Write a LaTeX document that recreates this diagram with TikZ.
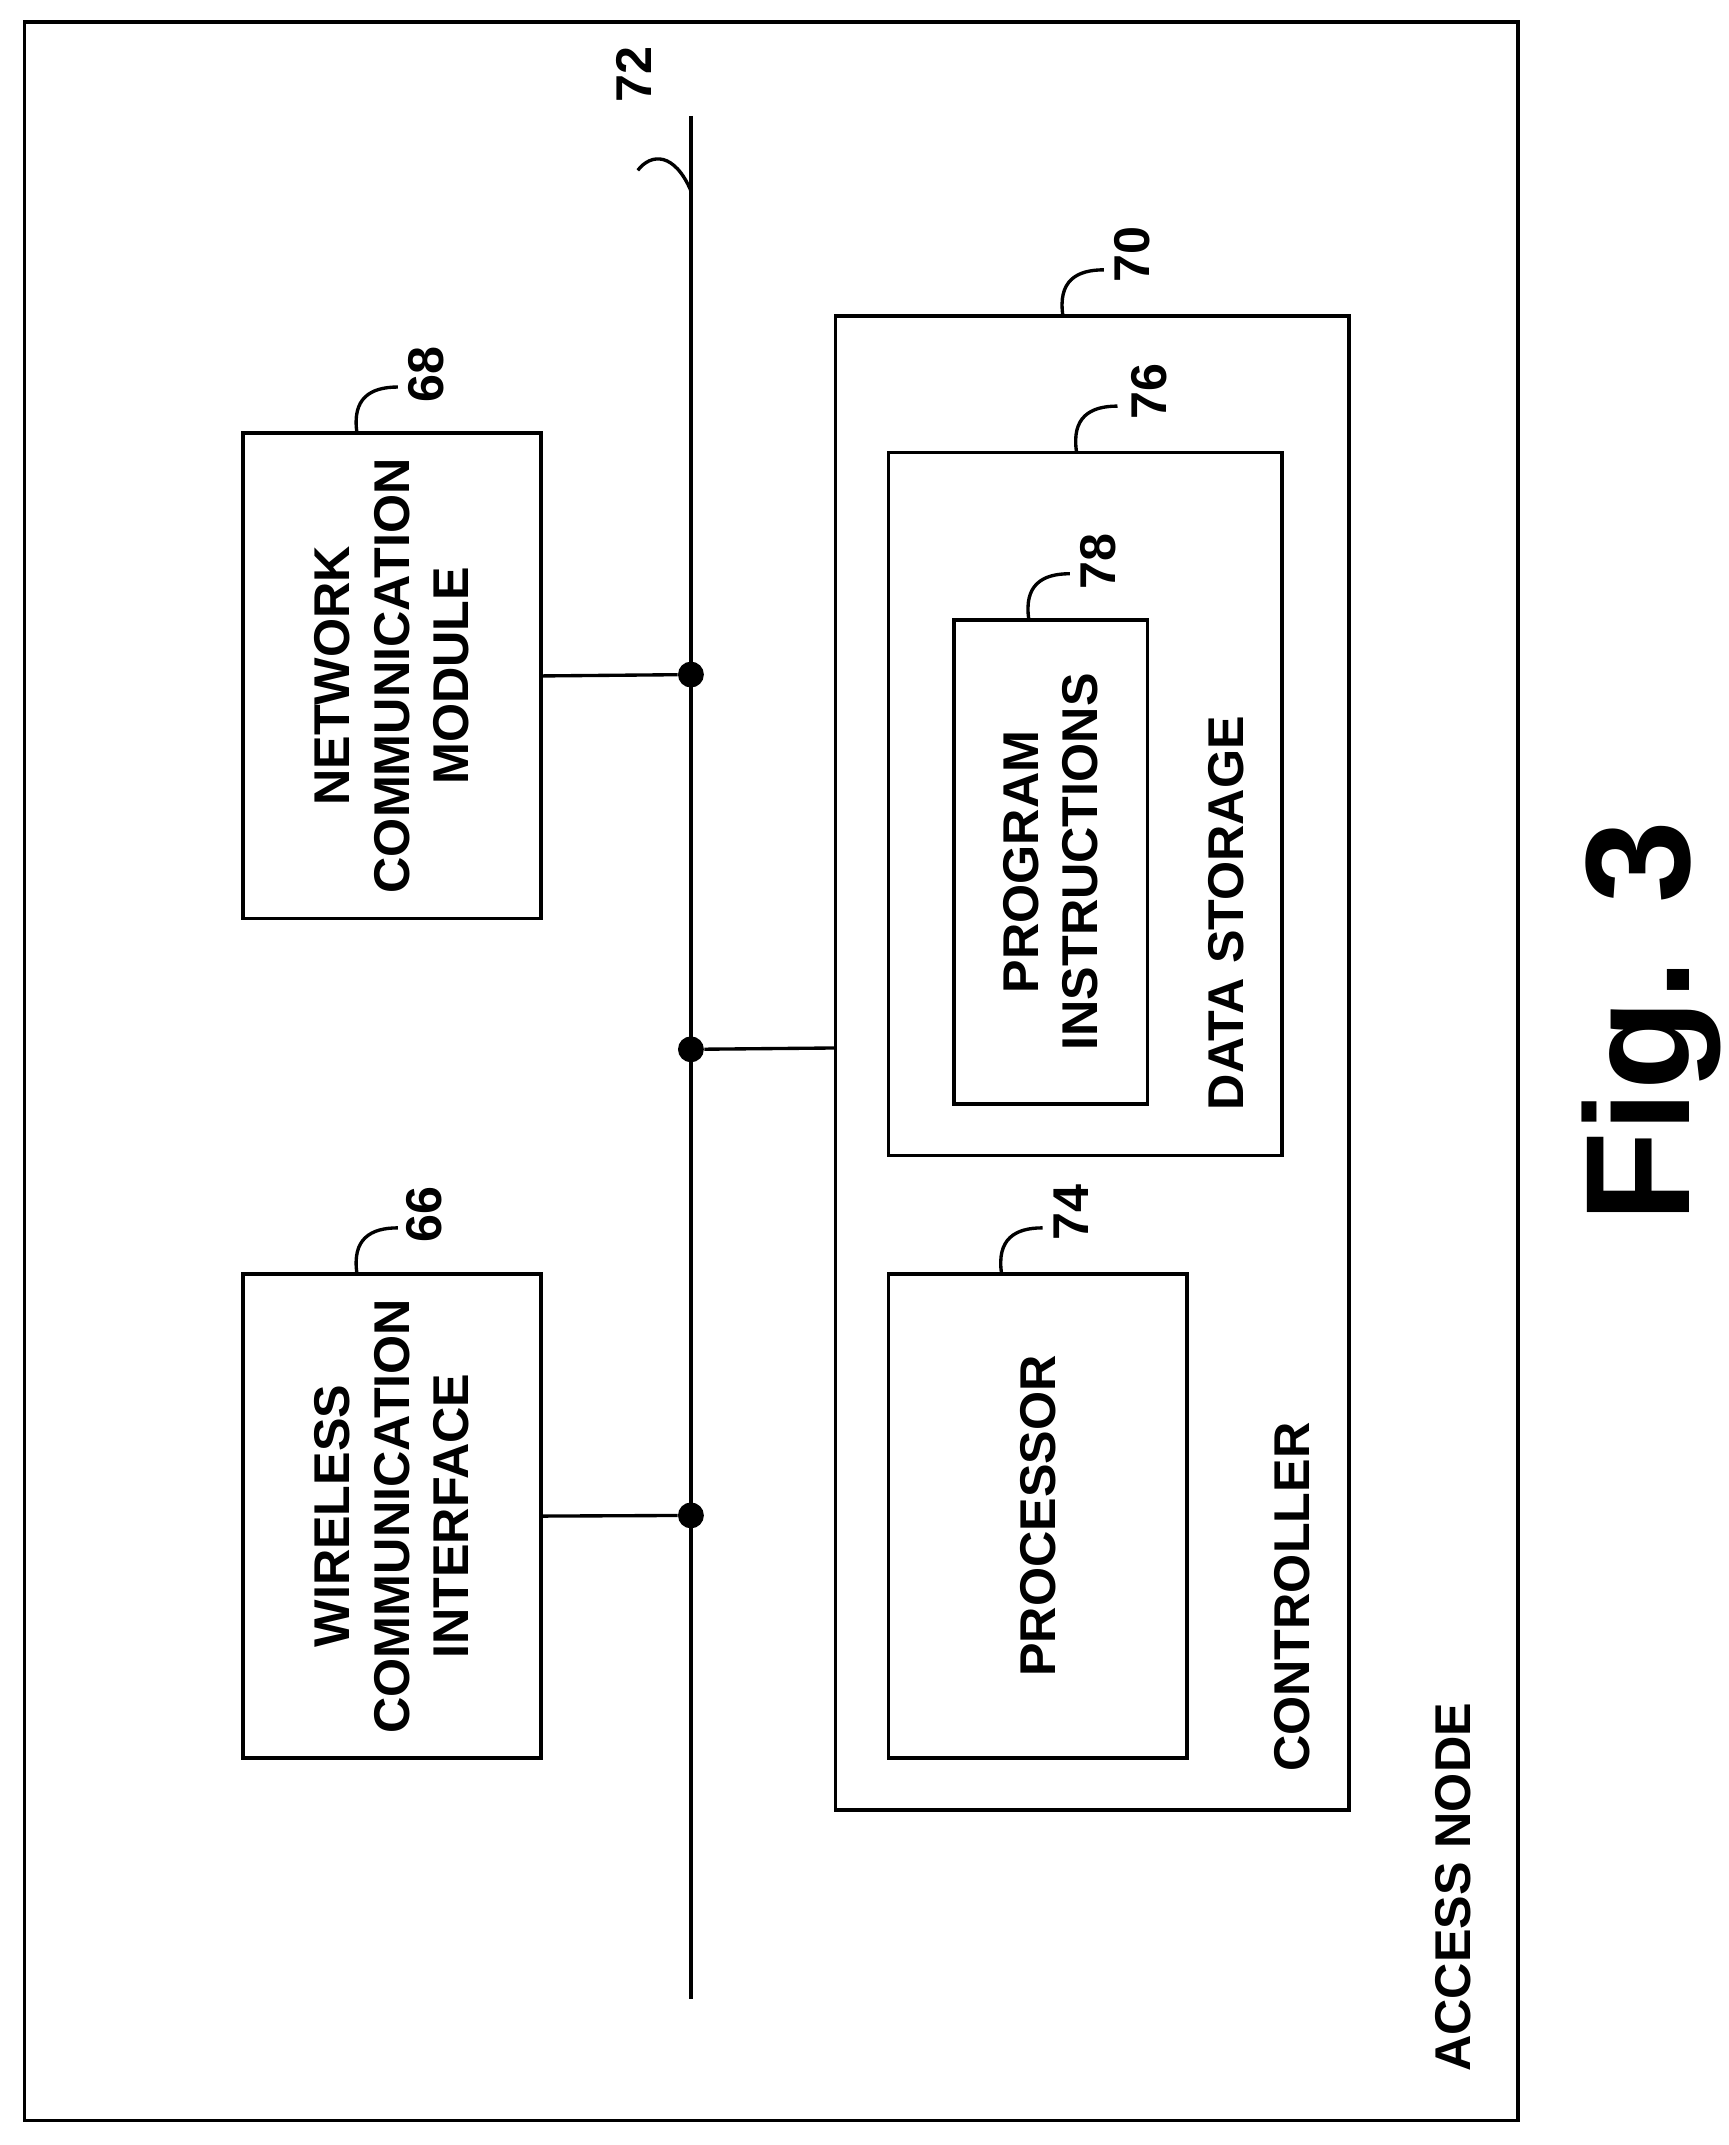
\documentclass[tikz,border=0pt]{standalone}
\usepackage{fontspec}
\setmainfont{Liberation Sans}
\usetikzlibrary{positioning}
\begin{document}
\begin{tikzpicture}[x=0.02cm,y=-0.02cm,
      every node/.style={font=\fontsize{21}{25}\selectfont\bfseries,align=center,inner sep=0pt},
      box/.style={draw,line width=1.6pt,rotate=90},
      lbl/.style={rotate=90},
      leader/.style={line width=1.4pt},
      dot/.style={circle,fill=black,minimum size=0.38cm},
    ]
      \useasboundingbox (0,0) rectangle (1268,1574);
      \draw[line width=1.6pt] (18,16) rectangle (1114,1556);
      % bus
      \coordinate (bustop) at (507,85);
      \coordinate (busbot) at (507,1467);
      \draw[line width=1.8pt] (bustop) -- (busbot);
      \draw[leader] (507,140) .. controls (495,112) and (478,112) .. (468,125);
      \node[lbl] (n72) at (465,55) {72};
      % modules
      \node[box,minimum width=7.12cm,minimum height=4.38cm] (net) at (287.5,496)
        {NETWORK\\COMMUNICATION\\MODULE};
      \node[box,minimum width=7.1cm,minimum height=4.38cm] (wifi) at (287.5,1112.5)
        {WIRELESS\\COMMUNICATION\\INTERFACE};
      \node[dot] (d1) at (507,495) {};
      \node[dot] (d2) at (507,770) {};
      \node[dot] (d3) at (507,1112) {};
      \draw[line width=1.4pt] (net.south) -- (d1);
      \draw[line width=1.4pt] (wifi.south) -- (d3);
      \draw[leader] (262,318) .. controls (258,292) and (272,284) .. (292,284);
      \node[lbl] (n68) at (313,275) {68};
      \draw[leader] (262,935) .. controls (258,909) and (272,901) .. (292,901);
      \node[lbl] (n66) at (311,891) {66};
      % controller
      \node[box,minimum width=21.92cm,minimum height=7.54cm] (ctrl) at (801.5,780) {};
      \draw[line width=1.4pt] (d2) -- (613,769);
      \draw[leader] (780,232) .. controls (776,206) and (790,198) .. (810,198);
      \node[lbl] (n70) at (831,187) {70};
      \node[box,minimum width=10.32cm,minimum height=5.78cm] (store) at (796.5,590) {};
      \draw[leader] (790,332) .. controls (786,306) and (800,298) .. (820,298);
      \node[lbl] (n76) at (843,287) {76};
      \node[box,minimum width=7.1cm,minimum height=2.84cm] (prog) at (771,632.5)
        {PROGRAM\\INSTRUCTIONS};
      \draw[leader] (755,455) .. controls (751,429) and (765,421) .. (785,421);
      \node[lbl] (n78) at (806,412) {78};
      \node[box,minimum width=7.1cm,minimum height=4.38cm] (proc) at (761.5,1112.5) {PROCESSOR};
      \draw[leader] (735,935) .. controls (731,909) and (745,901) .. (765,901);
      \node[lbl] (n74) at (786,890) {74};
      \node[lbl] (dslbl) at (900,670) {DATA STORAGE};
      \node[lbl] (ctlbl) at (948,1172) {CONTROLLER};
      \node[lbl] (anlbl) at (1066,1385) {ACCESS NODE};
      \node[lbl,font=\fontsize{62}{70}\selectfont\bfseries] (fig) at (1212,750) {Fig. 3};
    \end{tikzpicture}
\end{document}
